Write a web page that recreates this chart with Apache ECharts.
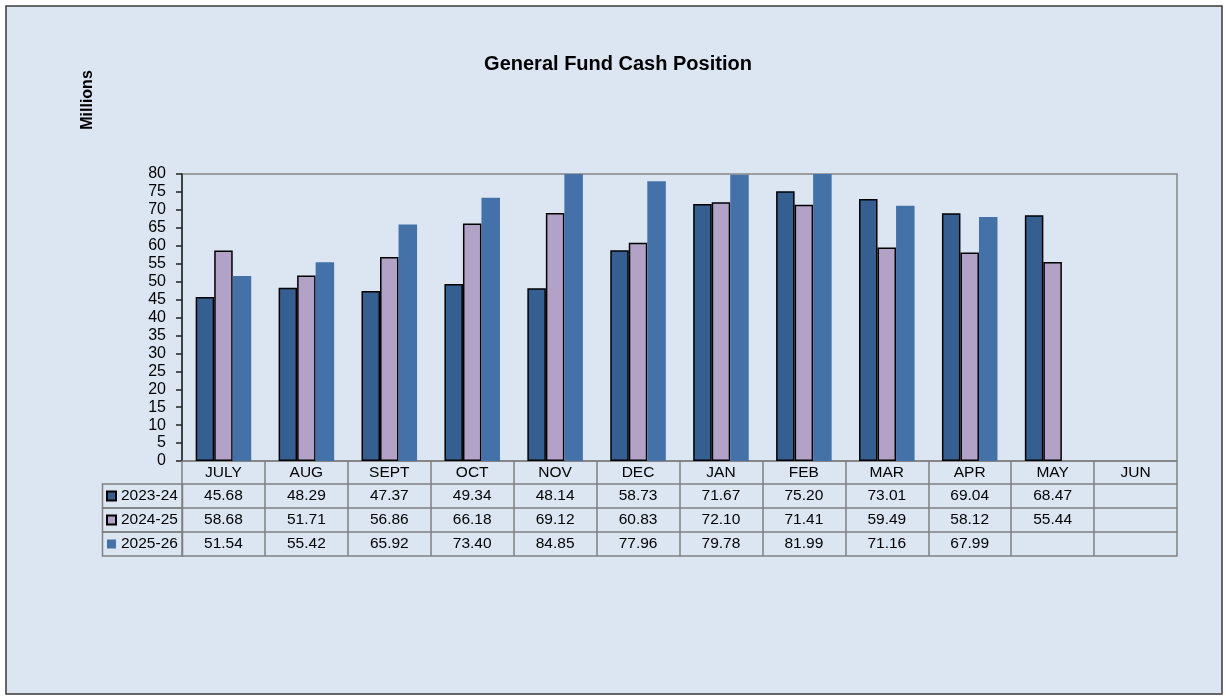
<!DOCTYPE html>
<html>
<head>
<meta charset="utf-8">
<script src="https://cdn.jsdelivr.net/npm/echarts@6/dist/echarts.min.js"></script>
<style>
html,body{margin:0;padding:0;background:#fff;}
#chart{width:1226px;height:696px;}
</style>
</head>
<body>
<div id="chart"></div>
<script>
var months = ['JULY','AUG','SEPT','OCT','NOV','DEC','JAN','FEB','MAR','APR','MAY','JUN'];
var seriesNames = ['2023-24','2024-25','2025-26'];
var fy2324 = [45.68, 48.29, 47.37, 49.34, 48.14, 58.73, 71.67, 75.20, 73.01, 69.04, 68.47, null];
var fy2425 = [58.68, 51.71, 56.86, 66.18, 69.12, 60.83, 72.10, 71.41, 59.49, 58.12, 55.44, null];
var fy2526 = [51.54, 55.42, 65.92, 73.40, 84.85, 77.96, 79.78, 81.99, 71.16, 67.99, null, null];
var yMin = 0, yMax = 80, yStep = 5;

var FONT = 'Liberation Sans, Arial, sans-serif';
var tableLine = '#808080';
var colors = ['#365f91', '#b3a2c7', '#4472a8'];
var rows = [fy2324, fy2425, fy2526];

function fmt(v){ return (v === null || v === undefined) ? '' : v.toFixed(2); }

var xAxes = [];
// header row (category names)
xAxes.push({
  type: 'category', data: months, position: 'bottom', offset: 0,
  axisLine: {show: true, lineStyle: {color: tableLine, width: 1.5}},
  axisTick: {show: true, interval: 0, length: 23, lineStyle: {color: tableLine, width: 1.5}},
  axisLabel: {interval: 0, margin: 12, verticalAlign: 'middle', color: '#000', fontSize: 15.5, fontFamily: FONT}
});
var offs = [23, 47, 71];
rows.forEach(function(r, i){
  xAxes.push({
    type: 'category', data: months, position: 'bottom', offset: offs[i],
    axisLine: {show: true, lineStyle: {color: tableLine, width: 1.5}},
    axisTick: {show: true, interval: 0, length: 24, lineStyle: {color: tableLine, width: 1.5}},
    axisLabel: {interval: 0, margin: 12, verticalAlign: 'middle', color: '#000', fontSize: 15.5, fontFamily: FONT,
      formatter: function(v, idx){ return fmt(r[idx]); }}
  });
});
xAxes.push({
  type: 'category', data: months, position: 'bottom', offset: 95,
  axisLine: {show: true, lineStyle: {color: tableLine, width: 1.5}},
  axisTick: {show: false}, axisLabel: {show: false}
});

var graphics = [
  {type: 'rect', z: -100, shape: {x: 6, y: 6, width: 1216, height: 688},
   style: {fill: '#dce6f2', stroke: '#3a3a3a', lineWidth: 1.5}},
  {type: 'text', x: 88, y: 100, rotation: Math.PI / 2,
   style: {text: 'Millions', fontSize: 16, fontWeight: 'bold', fontFamily: FONT, fill: '#000', align: 'center', verticalAlign: 'middle'}}
];
for (var i = 0; i < 3; i++) {
  graphics.push({type: 'rect', shape: {x: 102.5, y: 484 + i * 24, width: 80, height: 24},
    style: {fill: 'none', stroke: tableLine, lineWidth: 1.5}});
}

var chart = echarts.init(document.getElementById('chart'), null, {renderer: 'canvas'});
chart.setOption({
  backgroundColor: '#ffffff',
  animation: false,
  title: {
    text: 'General Fund Cash Position', left: 618, top: 54, textAlign: 'center', padding: 0,
    textStyle: {fontSize: 20, fontWeight: 'bold', fontFamily: FONT, color: '#000'}
  },
  legend: {
    data: seriesNames, orient: 'vertical', left: 106, top: 488, padding: 0,
    itemWidth: 9, itemHeight: 9, itemGap: 8, icon: 'rect', selectedMode: false,
    textStyle: {fontSize: 15.5, fontFamily: FONT, color: '#000', lineHeight: 16}
  },
  grid: {left: 182, right: 49, top: 174, bottom: 235, show: true, borderColor: '#868686', borderWidth: 1.5, backgroundColor: 'transparent'},
  xAxis: xAxes,
  yAxis: {
    type: 'value', min: yMin, max: yMax, interval: yStep,
    axisLine: {show: true, lineStyle: {color: '#222', width: 1.5}},
    axisTick: {show: true, length: 6, lineStyle: {color: '#222', width: 1.5}},
    splitLine: {show: false},
    axisLabel: {margin: 16, color: '#000', fontSize: 16, fontFamily: FONT}
  },
  graphic: graphics,
  series: [
    {name: seriesNames[0], type: 'bar', data: fy2324, barGap: '0%', barCategoryGap: '33%',
     itemStyle: {color: colors[0], borderColor: '#000', borderWidth: 1.5}},
    {name: seriesNames[1], type: 'bar', data: fy2425, barGap: '0%', barCategoryGap: '33%',
     itemStyle: {color: colors[1], borderColor: '#000', borderWidth: 1.5}},
    {name: seriesNames[2], type: 'bar', data: fy2526, barGap: '0%', barCategoryGap: '33%',
     itemStyle: {color: colors[2]}}
  ]
});
</script>
</body>
</html>
